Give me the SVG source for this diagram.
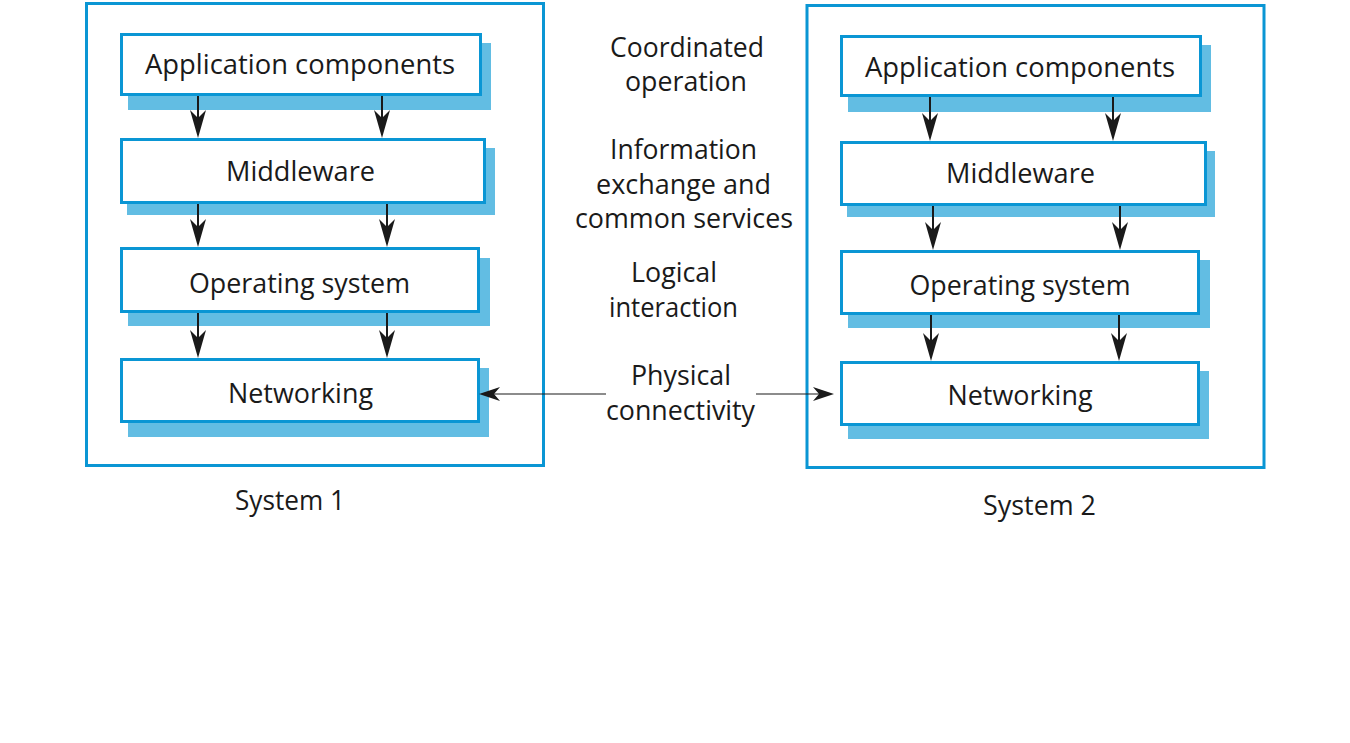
<svg xmlns="http://www.w3.org/2000/svg" width="1350" height="743" viewBox="0 0 1350 743">
<style>
.outer{fill:none;stroke:#0a96d4;stroke-width:3}
.box{fill:#fff;stroke:#0a96d4;stroke-width:3}
.shadow{fill:#62bde3}
text{font-family:"Open Sans","Noto Sans",sans-serif;font-size:28px;fill:#1a1a1a;text-anchor:middle}
.ln{stroke:#1a1a1a;stroke-width:2;fill:none}
.thin{stroke:#1a1a1a;stroke-width:1.2;fill:none}
.ah{fill:#1a1a1a}
</style>
<rect width="1350" height="743" fill="#fff"/>
<g id="system1">
<rect class="outer" x="86.5" y="3.5" width="457" height="462"/>
<text x="290" y="510" textLength="110" lengthAdjust="spacingAndGlyphs">System 1</text>
</g>
<g id="system2">
<rect class="outer" x="807" y="5.5" width="457" height="462"/>
<text x="1039.5" y="515" textLength="113" lengthAdjust="spacingAndGlyphs">System 2</text>
</g>
<g id="s1-app">
<rect class="shadow" x="128" y="43" width="363" height="67"/>
<rect class="box" x="121.5" y="34.5" width="359" height="60"/>
<text x="300" y="74" textLength="310" lengthAdjust="spacingAndGlyphs">Application components</text>
</g>
<g id="s1-mid">
<rect class="shadow" x="127" y="148" width="368" height="67"/>
<rect class="box" x="121.5" y="139.5" width="363" height="63"/>
<text x="300.5" y="181" textLength="149" lengthAdjust="spacingAndGlyphs">Middleware</text>
</g>
<g id="s1-os">
<rect class="shadow" x="128" y="258" width="362" height="68"/>
<rect class="box" x="121.5" y="248.5" width="357" height="63"/>
<text x="299.5" y="293" textLength="221" lengthAdjust="spacingAndGlyphs">Operating system</text>
</g>
<g id="s1-net">
<rect class="shadow" x="128" y="368" width="361" height="69"/>
<rect class="box" x="121.5" y="359.5" width="357" height="62"/>
<text x="300.5" y="403" textLength="145" lengthAdjust="spacingAndGlyphs">Networking</text>
</g>
<g id="s2-app">
<rect class="shadow" x="848" y="45" width="363" height="67"/>
<rect class="box" x="841.5" y="36.5" width="359" height="59"/>
<text x="1020" y="77" textLength="310" lengthAdjust="spacingAndGlyphs">Application components</text>
</g>
<g id="s2-mid">
<rect class="shadow" x="847" y="151" width="368" height="66"/>
<rect class="box" x="841.5" y="142.5" width="364" height="62"/>
<text x="1020.5" y="183" textLength="149" lengthAdjust="spacingAndGlyphs">Middleware</text>
</g>
<g id="s2-os">
<rect class="shadow" x="848" y="260" width="362" height="68"/>
<rect class="box" x="841.5" y="251.5" width="357" height="62"/>
<text x="1020" y="295" textLength="221" lengthAdjust="spacingAndGlyphs">Operating system</text>
</g>
<g id="s2-net">
<rect class="shadow" x="848" y="371" width="361" height="68"/>
<rect class="box" x="841.5" y="362.5" width="357" height="62"/>
<text x="1020" y="405" textLength="145" lengthAdjust="spacingAndGlyphs">Networking</text>
</g>
<g id="labels">
<text x="687" y="57" textLength="154" lengthAdjust="spacingAndGlyphs">Coordinated</text>
<text x="686" y="91" textLength="122" lengthAdjust="spacingAndGlyphs">operation</text>
<text x="683.5" y="159" textLength="147" lengthAdjust="spacingAndGlyphs">Information</text>
<text x="683.5" y="194" textLength="175" lengthAdjust="spacingAndGlyphs">exchange and</text>
<text x="684" y="228" textLength="218" lengthAdjust="spacingAndGlyphs">common services</text>
<text x="674" y="282" textLength="86" lengthAdjust="spacingAndGlyphs">Logical</text>
<text x="673.5" y="317" textLength="129" lengthAdjust="spacingAndGlyphs">interaction</text>
<text x="681" y="385" textLength="100" lengthAdjust="spacingAndGlyphs">Physical</text>
<text x="680.5" y="420" textLength="149" lengthAdjust="spacingAndGlyphs">connectivity</text>
</g>
<g id="connectors">
<path class="ln" d="M198,96V120 M382,96V120 M198,204V229 M387,204V229 M198,313V340 M387,313V340"/>
<path class="ah" d="M198,138L190,110L198,118L206,110Z M382,138L374,110L382,118L390,110Z M198,247L190,219L198,227L206,219Z M387,247L379,219L387,227L395,219Z M198,358L190,330L198,338L206,330Z M387,358L379,330L387,338L395,330Z"/>
<path class="ln" d="M930,97V123 M1113,97V123 M933,206V232 M1120,206V232 M931,315V343 M1119,315V343"/>
<path class="ah" d="M930,141L922,113L930,121L938,113Z M1113,141L1105,113L1113,121L1121,113Z M933,250L925,222L933,230L941,222Z M1120,250L1112,222L1120,230L1128,222Z M931,361L923,333L931,341L939,333Z M1119,361L1111,333L1119,341L1127,333Z"/>
<path class="thin" d="M492,394H606 M756,394H822"/>
<path class="ah" d="M479,394L500,387L494,394L500,401Z M834,394L813,387L819,394L813,401Z"/>
</g>
</svg>
